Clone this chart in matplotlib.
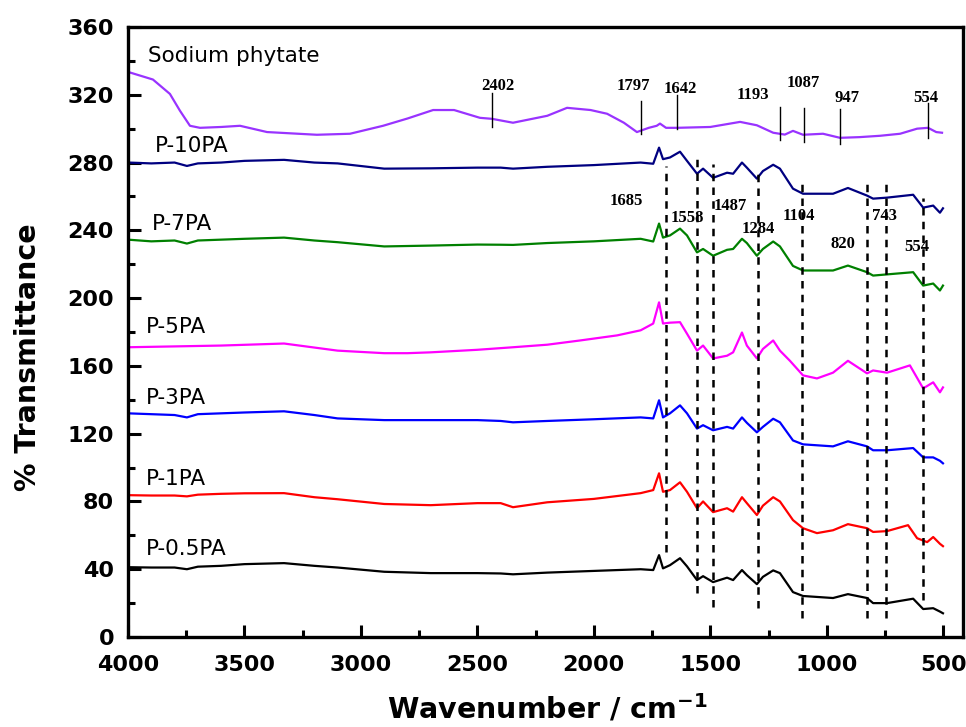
import matplotlib
matplotlib.use("Agg")
import matplotlib.pyplot as plt
from matplotlib.ticker import MultipleLocator

# common wavenumber grid (cm-1)
wn = [4000, 3900, 3800, 3747, 3700, 3600, 3500, 3330, 3200, 3100, 2900, 2700, 2500,
      2400, 2347, 2200, 2000, 1799, 1745, 1720, 1703, 1673, 1630, 1600, 1557, 1531,
      1488, 1428, 1402, 1364, 1343, 1300, 1274, 1230, 1201, 1145, 1102, 973, 909,
      827, 801, 741, 629, 586, 543, 514, 501]

p10 = [280, 279.5, 280, 278, 279.5, 280, 281, 281.6, 280, 279.5, 276.4, 276.6, 277,
       277, 276.4, 277.5, 278.5, 280, 279.3, 288.8, 282, 283, 286.4, 281, 273.4, 276.4,
       271, 274, 273.4, 280, 277, 270.5, 275, 278.7, 276.4, 264.6, 261.6, 261.6, 265,
       260.5, 258.7, 259.3, 261, 253.4, 254.6, 250.4, 253]
p7 = [234.5, 233.5, 234, 232.2, 234, 234.5, 235, 235.7, 234, 233, 230.5, 231, 231.6,
      231.5, 231.4, 232.5, 233.5, 235, 233.4, 244, 235.7, 237, 241, 237, 227, 229,
      225, 228.5, 229, 235, 232.5, 225, 229, 233.4, 230.5, 219, 216.3, 216.3, 219.2,
      215.3, 213.3, 214, 215.3, 207.4, 208.6, 204.5, 207.4]
p3 = [132, 131.5, 131, 129.6, 131.5, 132, 132.5, 133.2, 131, 129, 128, 128, 128,
      127.5, 126.7, 127.5, 128.5, 129.6, 129, 139.7, 129.6, 132, 136.7, 132, 123, 125,
      122, 124, 123, 129.6, 126.4, 120.8, 124, 128.8, 126.7, 116, 113.7, 112.5, 115.5,
      112.5, 110.2, 110.2, 111.5, 106, 106, 104, 102.5]
p05 = [41.2, 41, 41, 40, 41.5, 42, 43, 43.6, 42, 41, 38.5, 37.7, 37.7,
       37.5, 37, 38, 39, 40, 39.5, 48.3, 40.5, 42.4, 46.5, 41.7, 33.6, 35.9,
       32.4, 35, 33.6, 39.5, 36.5, 31.2, 35.5, 39.3, 37.7, 26.5, 24.2, 23, 25.3,
       23, 20, 20, 22.6, 16.5, 17, 15, 14]

wn_p1 = [4000, 3900, 3800, 3747, 3700, 3600, 3500, 3330, 3200, 3100, 2900, 2700, 2500,
         2400, 2347, 2200, 2000, 1799, 1745, 1720, 1703, 1673, 1630, 1600, 1557, 1531,
         1488, 1428, 1402, 1364, 1343, 1300, 1274, 1230, 1201, 1145, 1102, 1042, 973,
         909, 827, 801, 741, 651, 612, 569, 543, 514, 501]
p1 = [83.7, 83.5, 83.5, 83, 84, 84.5, 84.8, 84.9, 82.5, 81.3, 78.5, 77.8, 79,
      79, 76.6, 79.5, 81.5, 84.9, 86.7, 96.6, 85.7, 86.7, 91.3, 85.7, 76, 80,
      73.7, 76, 74, 82.5, 79, 72, 77.5, 82.5, 80, 69, 64.2, 61.3, 63,
      66.6, 64.2, 62, 62.5, 66, 58.3, 56, 59, 55, 53.6]

wn_p5 = [4000, 3800, 3600, 3330, 3100, 2900, 2800, 2700, 2500, 2347, 2200, 2059, 1900,
         1799, 1745, 1720, 1703, 1673, 1630, 1600, 1557, 1531, 1488, 1428, 1402, 1364,
         1343, 1300, 1274, 1230, 1201, 1158, 1102, 1042, 973, 909, 827, 801, 741, 643,
         586, 543, 514, 501]
p5 = [171, 171.5, 172, 173.2, 169, 167.5, 167.5, 168, 169.5, 171, 172.5, 175, 178,
      181, 185, 197.5, 185, 185.5, 185.8, 179, 169, 172, 164.4, 166, 168, 179.7,
      172, 164.4, 170, 175, 169, 163, 154.4, 152.6, 156, 163, 155.6, 157.3, 156, 160.3,
      146.7, 150.3, 144.4, 147.3]

wn_na = [4000, 3893, 3820, 3777, 3734, 3691, 3600, 3519, 3403, 3189, 3047, 2905, 2800,
         2690, 2600, 2489, 2437, 2347, 2200, 2115, 2014, 1943, 1871, 1815, 1764, 1730,
         1716, 1690, 1643, 1500, 1372, 1300, 1230, 1180, 1145, 1102, 1016, 943, 860,
         771, 685, 612, 565, 530, 505]
na = [333.5, 329, 320.5, 310.6, 301.7, 300.5, 301, 301.7, 298, 296.4, 297, 301.7, 306,
      311, 311, 306.4, 305.8, 303.5, 307.6, 312.3, 311, 308.8, 303.5, 298, 300.5, 301.7,
      303, 300.5, 300.5, 301, 304, 302, 297.6, 296.5, 298.7, 296.4, 297, 294.6, 295,
      295.8, 297, 300, 300.5, 298, 297.6]

names = ["Sodium phytate", "P-10PA", "P-7PA", "P-5PA", "P-3PA", "P-1PA", "P-0.5PA"]
name_x = [3914, 3884, 3897, 3923, 3923, 3923, 3923]
name_y = [343, 290, 244, 182.7, 141, 93, 52]

# sodium phytate bands (solid ticks)
na_lines = [2437, 1799, 1644, 1201, 1097, 943, 564]
na_lo = [301, 297, 300, 293.4, 292.3, 291, 294.6]
na_hi = [321, 316.4, 320, 313, 312.3, 311.7, 315.3]
na_labels = ["2402", "1797", "1642", "1193", "1087", "947", "554"]
na_lab_x = [2410, 1832, 1630, 1316, 1102, 913, 574]
na_lab_y = [325, 325, 323.5, 320, 327, 318, 318]

# polymer bands (dashed)
pk_lines = [1690, 1557, 1488, 1295, 1106, 827, 745, 586]
pk_lo = [50, 26, 17.7, 17, 11, 11, 11, 21.8]
pk_hi = [278, 284, 279, 274, 270.5, 270.5, 269, 259]
pk_labels = ["1685", "1558", "1487", "1284", "1104", "820", "743", "554"]
pk_lab_x = [1862, 1600, 1415, 1295, 1119, 930, 750, 612]
pk_lab_y = [257.5, 247, 254.6, 241, 248.7, 232, 248.7, 230]

fig = plt.figure(figsize=(9.66, 7.27), dpi=100)
ax = fig.add_axes([128 / 966, 1 - 637 / 727, 835 / 966, 610 / 727])

ax.plot(wn_na, na, color="#9933ff", lw=1.6)
ax.plot(wn, p10, color="#000080", lw=1.6)
ax.plot(wn, p7, color="#008000", lw=1.6)
ax.plot(wn_p5, p5, color="#ff00ff", lw=1.6)
ax.plot(wn, p3, color="#0000ff", lw=1.6)
ax.plot(wn_p1, p1, color="#ff0000", lw=1.6)
ax.plot(wn, p05, color="black", lw=1.6)

for x, lo, hi in zip(na_lines, na_lo, na_hi):
    ax.plot([x, x], [lo, hi], color="black", lw=1.0)
for x, lo, hi in zip(pk_lines, pk_lo, pk_hi):
    ax.plot([x, x], [lo, hi], color="black", lw=1.8, linestyle=(0, (3, 2.5)))

ser = dict(family="Liberation Serif", fontweight="bold", fontsize=12, ha="center", va="center")
for t, x, y in zip(na_labels, na_lab_x, na_lab_y):
    ax.text(x, y, t, **ser)
for t, x, y in zip(pk_labels, pk_lab_x, pk_lab_y):
    ax.text(x, y, t, **ser)

for t, x, y in zip(names, name_x, name_y):
    ax.text(x, y, t, fontsize=15.5, ha="left", va="center")

ax.set_xlim(4000, 415)
ax.set_ylim(0, 360)
ax.xaxis.set_major_locator(MultipleLocator(500))
ax.xaxis.set_minor_locator(MultipleLocator(250))
ax.yaxis.set_major_locator(MultipleLocator(40))
ax.yaxis.set_minor_locator(MultipleLocator(20))
ax.tick_params(which="both", direction="in", width=2.2, top=False, right=False)
ax.tick_params(which="major", length=9, labelsize=16)
ax.tick_params(which="minor", length=5)
ax.tick_params(axis="x", pad=13)
ax.tick_params(axis="y", pad=10)
for lab in ax.get_xticklabels() + ax.get_yticklabels():
    lab.set_fontweight("bold")
for s in ax.spines.values():
    s.set_linewidth(2.4)

fig.text(28 / 966, 1 - 357 / 727, "% Transmittance", rotation=90, ha="center",
         va="center", fontsize=20.5, fontweight="bold")
fig.text(547 / 966, 0.012, "Wavenumber / cm$^{\\mathbf{-1}}$", ha="center", va="baseline",
         fontsize=20.5, fontweight="bold")

fig.savefig("out.png", dpi=100)
